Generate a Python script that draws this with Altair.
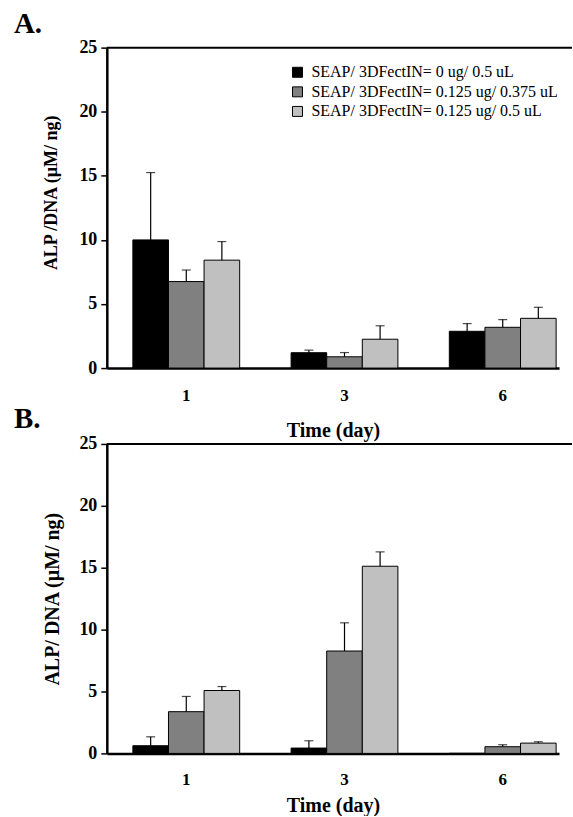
import altair as alt
import pandas as pd

days = ["1", "3", "6"]
series = [
    "SEAP/ 3DFectIN= 0 ug/ 0.5 uL",
    "SEAP/ 3DFectIN= 0.125 ug/ 0.375 uL",
    "SEAP/ 3DFectIN= 0.125 ug/ 0.5 uL",
]
colors = ["#000000", "#808080", "#c0c0c0"]

# Panel A values / errors (rows: series, cols: days)
a_vals = [[10.0, 1.2, 2.87], [6.75, 0.88, 3.18], [8.42, 2.25, 3.88]]
a_errs = [[5.25, 0.2, 0.6], [0.9, 0.33, 0.6], [1.45, 1.05, 0.86]]
# Panel B values / errors
b_vals = [[0.62, 0.43, 0.0], [3.37, 8.27, 0.54], [5.08, 15.12, 0.83]]
b_errs = [[0.72, 0.59, 0.0], [1.23, 2.28, 0.16], [0.32, 1.16, 0.11]]

FONT = "Liberation Serif"
W = 453


def make_df(vals, errs):
    rows = []
    for si, s in enumerate(series):
        for di, d in enumerate(days):
            rows.append({"Day": d, "Series": s, "order": si,
                         "value": vals[si][di], "upper": vals[si][di] + errs[si][di],
                         "err": errs[si][di]})
    return pd.DataFrame(rows)


def panel(vals, errs, H, ytitle, ytfont, ytx, yty, legend_y, legend_x,
          lab_pad, tit_pad, extra_texts):
    df = make_df(vals, errs)
    xs = alt.X("Day:N", sort=days,
               scale=alt.Scale(paddingInner=0.325, paddingOuter=0.0915, align=0.9),
               axis=alt.Axis(title="Time (day)", labelAngle=0, ticks=False,
                             labelFontSize=17, titleFontSize=20,
                             labelPadding=lab_pad, titlePadding=tit_pad))
    xo = alt.XOffset("Series:N", sort=series, scale=alt.Scale(paddingInner=0, paddingOuter=0))
    ys = alt.Y("value:Q", scale=alt.Scale(domain=[0, 25], nice=False),
               axis=alt.Axis(title=ytitle, values=[0, 5, 10, 15, 20, 25], grid=False,
                             tickSize=6, tickWidth=1.5, labelPadding=4,
                             labelFontSize=18, titleFontSize=ytfont,
                             titleX=ytx, titleY=yty, titleAlign="center",
                             titleBaseline="middle", titleAngle=270))
    base = alt.Chart(df)
    bars = base.mark_bar(stroke="black", strokeWidth=1).encode(
        x=xs, xOffset=xo, y=ys,
        color=alt.Color("Series:N", sort=series,
                        scale=alt.Scale(domain=series, range=colors),
                        legend=alt.Legend(title=None, orient="none",
                                          legendX=legend_x, legendY=legend_y,
                                          symbolType="square", symbolSize=100,
                                          symbolStrokeColor="black", symbolStrokeWidth=1,
                                          labelFont=FONT, labelFontSize=16,
                                          labelColor="black", labelLimit=400,
                                          labelOffset=6, rowPadding=3.6)),
    )
    eb = base.transform_filter("datum.err > 0")
    rules = eb.mark_rule(color="black", strokeWidth=1.2).encode(
        x=alt.X("Day:N", sort=days), xOffset=alt.XOffset("Series:N", sort=series),
        y="value:Q", y2="upper:Q")
    caps = eb.mark_tick(color="black", size=9, thickness=1.2, orient="horizontal").encode(
        x=alt.X("Day:N", sort=days), xOffset=alt.XOffset("Series:N", sort=series),
        y="upper:Q")
    one = alt.Data(values=[{"a": 1}])
    topline = alt.Chart(one).mark_rule(color="black", strokeWidth=2).encode(
        x=alt.value(0), x2=alt.value(W + 13), y=alt.value(0))
    layers = [bars, rules, caps, topline]
    for txt, tx, ty in extra_texts:
        layers.append(alt.Chart(one).mark_text(
            text=txt, font=FONT, fontSize=29, fontWeight="bold", align="left",
            baseline="middle", color="black").encode(x=alt.value(tx), y=alt.value(ty)))
    return alt.layer(*layers).properties(width=W, height=H)


pa = panel(a_vals, a_errs, 321, "ALP /DNA (\u00b5M/ ng)", 18, -55, 145, 16.7, 183,
           19, 18, [("A.", -93, -24), ("B.", -93, 372)])
pb = panel(b_vals, b_errs, 310, "ALP/ DNA (\u00b5M/ ng)", 20, -54, 155, 22.7, 175,
           18, 8, [])

chart = alt.vconcat(pa, pb, spacing=-6).properties(
    padding={"left": 14, "top": 9, "right": 0, "bottom": 0}
).configure_view(stroke=None).configure_axis(
    domainColor="black", domainWidth=2.5, tickColor="black",
    labelFont=FONT, labelFontWeight="bold", labelColor="black",
    titleFont=FONT, titleFontWeight="bold", titleColor="black",
)

chart.save("out.html", embed_options={"renderer": "svg", "actions": False})
